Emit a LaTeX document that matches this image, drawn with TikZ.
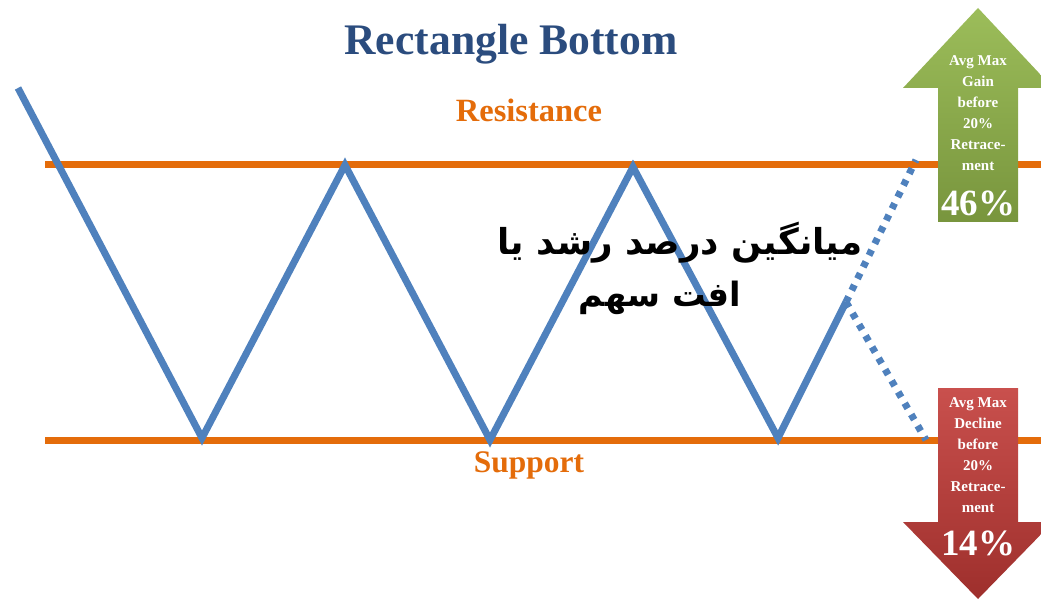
\documentclass[tikz,border=0pt]{standalone}
\usepackage{fontspec}
\setmainfont{Liberation Serif}
\newfontfamily\arabicfont[Script=Arabic]{DejaVu Sans}
\TeXXeTstate=1
\definecolor{zblue}{HTML}{4F81BD}
\definecolor{zorange}{HTML}{E46C0A}
\definecolor{ztitle}{HTML}{2B4C7E}
\definecolor{zgreenA}{HTML}{9CBD5A}
\definecolor{zgreenB}{HTML}{78953D}
\definecolor{zredA}{HTML}{C9504D}
\definecolor{zredB}{HTML}{9E2F2C}
\tikzset{
  levelline/.style={draw=zorange, line width=7pt},
  priceline/.style={draw=zblue, line width=7pt, line join=miter},
  projline/.style={draw=zblue, line width=7pt, dash pattern=on 6pt off 7pt},
  arrowtext/.style={text=white, font=\bfseries\fontsize{15}{21}\selectfont, align=center, inner sep=0pt},
  pcttext/.style={text=white, font=\bfseries\fontsize{37}{38}\selectfont, inner sep=0pt},
  lbl/.style={inner sep=0pt}
}
\begin{document}
\begin{tikzpicture}[x=1pt,y=-1pt]
\useasboundingbox (0,0) rectangle (1041,601);
\clip (0,0) rectangle (1041,601);
\fill[white] (0,0) rectangle (1041,601);
% level lines
\coordinate (r0) at (45,165); \coordinate (r1) at (1041,165);
\coordinate (s0) at (45,440); \coordinate (s1) at (1041,440);
\draw[levelline] (r0) -- (r1);
\draw[levelline] (s0) -- (s1);
% price path
\coordinate (p0) at (18,88);
\coordinate (p1) at (202,438);
\coordinate (p2) at (345,165);
\coordinate (p3) at (490,440);
\coordinate (p4) at (633,167);
\coordinate (p5) at (778,438);
\coordinate (p6) at (846,302);
\coordinate (up) at (916,160);
\coordinate (dn) at (926,440);
\draw[priceline] (p0) -- (p1) -- (p2) -- (p3) -- (p4) -- (p5) -- (p6);
\draw[projline] (p6) -- (up);
\draw[projline] (p6) -- (dn);
% arrows
\shade[top color=zgreenA, bottom color=zgreenB]
  (938,222) -- (938,88) -- (903,88) -- (978,8) -- (1053,88) -- (1018,88) -- (1018,222) -- cycle;
\shade[top color=zredA, bottom color=zredB]
  (938,388) -- (1018,388) -- (1018,522) -- (1053,522) -- (978,599) -- (903,522) -- (938,522) -- cycle;
\node[arrowtext] (gaintxt) at (978,113) {Avg Max\\Gain\\before\\20\%\\Retrace-\\ment};
\node[pcttext] (gainpct) at (978,203) {46\%};
\node[arrowtext] (decltxt) at (978,455) {Avg Max\\Decline\\before\\20\%\\Retrace-\\ment};
\node[pcttext] (declpct) at (978,543) {14\%};
% labels
\node[lbl, text=ztitle] (title) at (511,44) {\resizebox{333pt}{!}{\bfseries Rectangle Bottom}};
\node[lbl, text=zorange] (res) at (529,110) {\resizebox{146pt}{!}{\bfseries Resistance}};
\node[lbl, text=zorange] (sup) at (529,465) {\resizebox{110pt}{!}{\bfseries Support}};
\node[lbl] (fa1) at (680,243) {\resizebox{365pt}{!}{\arabicfont\bfseries\beginR میانگین درصد رشد یا\endR}};
\node[lbl] (fa2) at (660,298) {\resizebox{162pt}{!}{\arabicfont\bfseries\beginR افت سهم\endR}};
\end{tikzpicture}
\end{document}
